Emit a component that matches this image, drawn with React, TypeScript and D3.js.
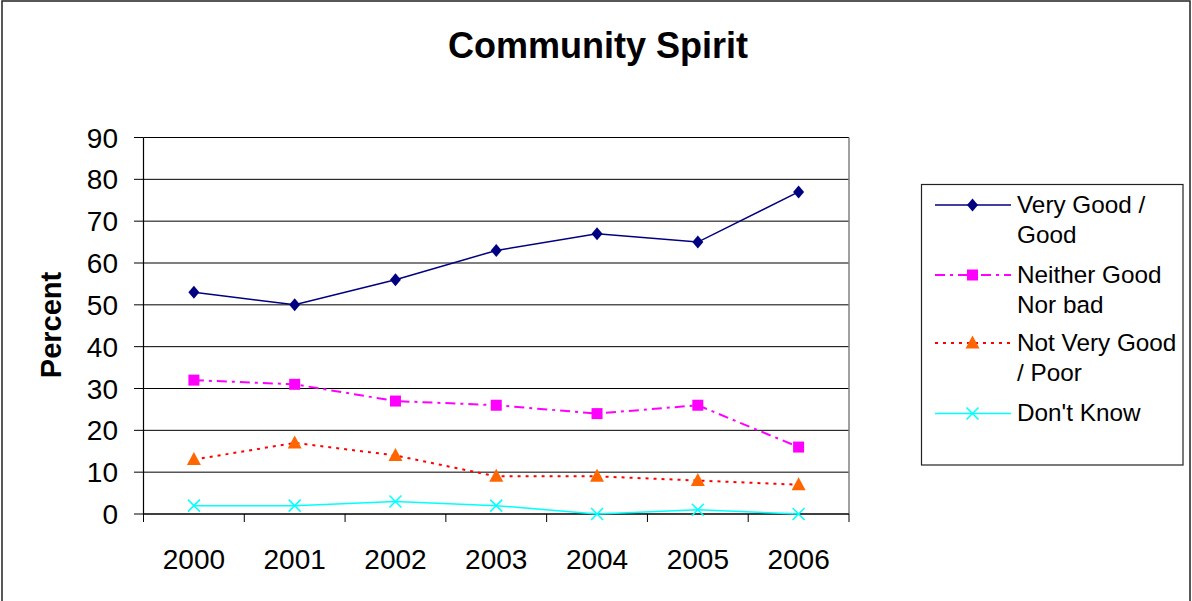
import React from "react";
import * as d3 from "d3";

const years = ["2000", "2001", "2002", "2003", "2004", "2005", "2006"];
const veryGood = [53, 50, 56, 63, 67, 65, 77];
const neither = [32, 31, 27, 26, 24, 26, 16];
const notVeryGood = [13, 17, 14, 9, 9, 8, 7];
const dontKnow = [2, 2, 3, 2, 0, 1, 0];
const yTicks = [0, 10, 20, 30, 40, 50, 60, 70, 80, 90];
const legendLabels = [
  ["Very Good /", "Good"],
  ["Neither Good", "Nor bad"],
  ["Not Very Good", "/ Poor"],
  ["Don't Know"],
];

const W = 1192;
const H = 601;
const left = 143.5;
const right = 849;
const top = 137.5;
const bottom = 514;

type Series = {
  values: number[];
  color: string;
  marker: string;
  markerColor: string;
  dash: string;
  width: number;
};

const series: Series[] = [
  { values: veryGood, color: "#000080", marker: "diamond", markerColor: "#000080", dash: "", width: 1.5 },
  { values: neither, color: "#FF00FF", marker: "square", markerColor: "#FF00FF", dash: "10,5,3,5", width: 2 },
  { values: notVeryGood, color: "#FF0000", marker: "triangle", markerColor: "#FF6600", dash: "3,5", width: 2 },
  { values: dontKnow, color: "#00FFFF", marker: "cross", markerColor: "#00FFFF", dash: "", width: 1.5 },
];

function Marker({ type, x, y, color }: { type: string; x: number; y: number; color: string }) {
  if (type === "diamond") {
    return <path d={`M${x},${y - 6.5}L${x + 5.5},${y}L${x},${y + 6.5}L${x - 5.5},${y}Z`} fill={color} />;
  }
  if (type === "square") {
    return <rect x={x - 5.5} y={y - 5.5} width={11} height={11} fill={color} />;
  }
  if (type === "triangle") {
    return <path d={`M${x},${y - 7.5}L${x + 7},${y + 5.5}L${x - 7},${y + 5.5}Z`} fill={color} />;
  }
  return (
    <path
      d={`M${x - 6},${y - 6}L${x + 6},${y + 6}M${x - 6},${y + 6}L${x + 6},${y - 6}`}
      stroke={color}
      strokeWidth={1.5}
      fill="none"
    />
  );
}

export default function App() {
  const x = d3.scaleBand<string>().domain(years).range([left, right]);
  const y = d3.scaleLinear().domain([0, 90]).range([bottom, top]);
  const cx = (yr: string) => (x(yr) || 0) + x.bandwidth() / 2;
  const line = d3
    .line<number>()
    .x((_, i) => cx(years[i]))
    .y((d) => y(d));

  const font = "Arial, 'Liberation Sans', Helvetica, sans-serif";
  const boundaries = years.map((yr) => x(yr) || 0).concat([right]);

  const legendX = 921.5;
  const legendRows = [205, 275, 343, 413.5];

  return (
    <svg
      width={W}
      height={H}
      style={{ position: "absolute", left: 0, top: 0, display: "block", background: "#fff" }}
      fontFamily={font}
    >
      <rect x={0} y={0} width={W} height={H} fill="#fff" />
      <rect x={2} y={1} width={1188} height={640} fill="none" stroke="#222" strokeWidth={1.5} />

      <text x={598} y={57.5} textAnchor="middle" fontSize={36} fontWeight="bold" fill="#000">
        Community Spirit
      </text>

      {yTicks.map((t) => (
        <line key={"g" + t} x1={left} x2={right} y1={y(t)} y2={y(t)} stroke="#000" strokeWidth={1} />
      ))}
      <line x1={right} x2={right} y1={top} y2={bottom} stroke="#808080" strokeWidth={1.5} />
      <line x1={left} x2={left} y1={top} y2={bottom} stroke="#000" strokeWidth={1.2} />
      <line x1={left} x2={right} y1={bottom} y2={bottom} stroke="#000" strokeWidth={1.2} />
      {yTicks.map((t) => (
        <g key={"yt" + t}>
          <line x1={134} x2={left} y1={y(t)} y2={y(t)} stroke="#000" strokeWidth={1} />
          <text x={118} y={y(t) + 10} textAnchor="end" fontSize={28} fill="#000">
            {t}
          </text>
        </g>
      ))}
      {boundaries.map((b, i) => (
        <line key={"xt" + i} x1={b} x2={b} y1={bottom} y2={522} stroke="#000" strokeWidth={1} />
      ))}
      {years.map((yr) => (
        <text key={"xl" + yr} x={cx(yr)} y={569} textAnchor="middle" fontSize={28} fill="#000">
          {yr}
        </text>
      ))}

      <text
        transform={`translate(60.5,325) rotate(-90)`}
        textAnchor="middle"
        fontSize={29}
        fontWeight="bold"
        fill="#000"
      >
        Percent
      </text>

      {series.map((s, si) => (
        <g key={"s" + si}>
          <path
            d={line(s.values) || ""}
            fill="none"
            stroke={s.color}
            strokeWidth={s.width}
            strokeDasharray={s.dash}
          />
          {s.values.map((v, i) => (
            <Marker key={i} type={s.marker} x={cx(years[i])} y={y(v)} color={s.markerColor} />
          ))}
        </g>
      ))}

      <rect x={legendX} y={184.5} width={1183 - legendX} height={465 - 184.5} fill="#fff" stroke="#222" strokeWidth={1.2} />
      {series.map((s, si) => {
        const ly = legendRows[si];
        return (
          <g key={"l" + si}>
            <line x1={935} x2={1011} y1={ly} y2={ly} stroke={s.color} strokeWidth={s.width} strokeDasharray={s.dash} />
            <Marker type={s.marker} x={972.5} y={ly} color={s.markerColor} />
            {legendLabels[si].map((t, li) => (
              <text key={li} x={1017} y={ly + 7.5 + li * 30} fontSize={24.3} fill="#000">
                {t}
              </text>
            ))}
          </g>
        );
      })}
    </svg>
  );
}
